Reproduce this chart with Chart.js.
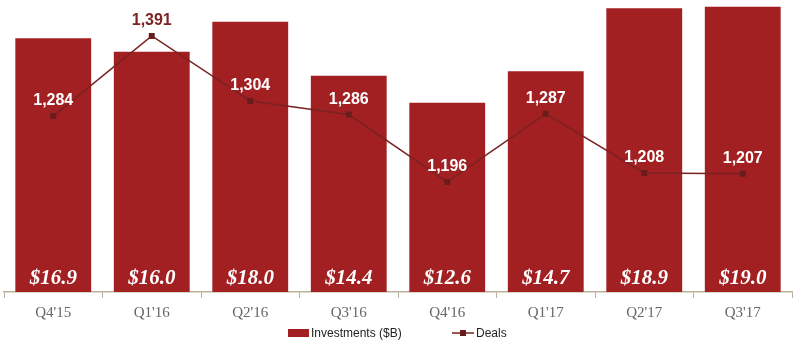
<!DOCTYPE html>
<html>
<head>
<meta charset="utf-8">
<script src="https://cdn.jsdelivr.net/npm/chart.js@4.4.0/dist/chart.umd.min.js"></script>
<style>
  html, body { margin: 0; padding: 0; background: #fff; }
  #wrap { width: 800px; height: 345px; }
</style>
</head>
<body>
<div id="wrap"><canvas id="myChart"></canvas></div>
<script>
const quarters = ["Q4'15", "Q1'16", "Q2'16", "Q3'16", "Q4'16", "Q1'17", "Q2'17", "Q3'17"];
const investments = [16.9, 16.0, 18.0, 14.4, 12.6, 14.7, 18.9, 19.0];
const deals = [1284, 1391, 1304, 1286, 1196, 1287, 1208, 1207];

const barColor = "#a21f22";
const lineColor = "#7a2222";
const markColor = "#6a1c1c";
const axisColor = "#b9b199";

// labels on bars + points, and the legend at the bottom
const labelPlugin = {
  id: "labels",
  afterDatasetsDraw(chart) {
    const ctx = chart.ctx;
    const bars = chart.getDatasetMeta(0).data;
    const pts = chart.getDatasetMeta(1).data;
    ctx.save();
    ctx.textAlign = "center";
    ctx.textBaseline = "middle";

    ctx.font = "italic bold 21px 'Liberation Serif'";
    ctx.fillStyle = "#ffffff";
    bars.forEach(function (b, i) {
      ctx.fillText("$" + investments[i].toFixed(1), b.x, chart.chartArea.bottom - 13);
    });

    ctx.font = "bold 16px 'Liberation Sans'";
    pts.forEach(function (p, i) {
      var y = p.y - 15;
      ctx.fillStyle = y < bars[i].y ? "#7b2324" : "#ffffff";
      ctx.fillText(deals[i].toLocaleString("en-US"), p.x, y);
    });
    ctx.restore();
  },
  afterDraw(chart) {
    const ctx = chart.ctx;
    const y = 333;
    ctx.save();
    ctx.fillStyle = barColor;
    ctx.fillRect(288, y - 4, 21, 8);
    ctx.font = "12px 'Liberation Sans'";
    ctx.fillStyle = "#222";
    ctx.textBaseline = "middle";
    ctx.fillText("Investments ($B)", 311, y + 1);
    ctx.strokeStyle = lineColor;
    ctx.lineWidth = 1.5;
    ctx.beginPath();
    ctx.moveTo(452, y);
    ctx.lineTo(474, y);
    ctx.stroke();
    ctx.fillStyle = markColor;
    ctx.fillRect(460, y - 3, 6, 6);
    ctx.fillStyle = "#222";
    ctx.fillText("Deals", 476, y + 1);
    ctx.restore();
  },
};

const ctx = document.getElementById("myChart").getContext("2d");
new Chart(ctx, {
  data: {
    labels: quarters,
    datasets: [
      {
        type: "bar",
        label: "Investments ($B)",
        data: investments,
        backgroundColor: barColor,
        barPercentage: 0.77,
        categoryPercentage: 1.0,
        yAxisID: "y",
        order: 1,
      },
      {
        type: "line",
        label: "Deals",
        data: deals,
        borderColor: lineColor,
        borderWidth: 1.5,
        pointStyle: "rect",
        pointRadius: 4.2,
        pointBackgroundColor: markColor,
        pointBorderColor: markColor,
        pointBorderWidth: 0,
        tension: 0,
        fill: false,
        yAxisID: "y2",
        order: 0,
      },
    ],
  },
  options: {
    responsive: true,
    maintainAspectRatio: false,
    animation: false,
    layout: { autoPadding: false, padding: { left: 4, right: 8, top: 0, bottom: 0 } },
    plugins: {
      legend: { display: false },
      tooltip: { enabled: false },
    },
    scales: {
      x: {
        grid: {
          display: true,
          drawOnChartArea: false,
          drawTicks: true,
          tickLength: 6,
          color: axisColor,
          offset: true,
        },
        border: { display: true, color: axisColor, width: 1.5 },
        ticks: {
          color: "#666",
          padding: 6,
          font: { family: "'Liberation Serif'", size: 15 },
        },
        afterFit(scale) {
          scale.height = 53;
        },
      },
      y: { display: false, min: 0, max: 19.45 },
      y2: { display: false, min: 1049, max: 1439 },
    },
  },
  plugins: [labelPlugin],
});
</script>
</body>
</html>
